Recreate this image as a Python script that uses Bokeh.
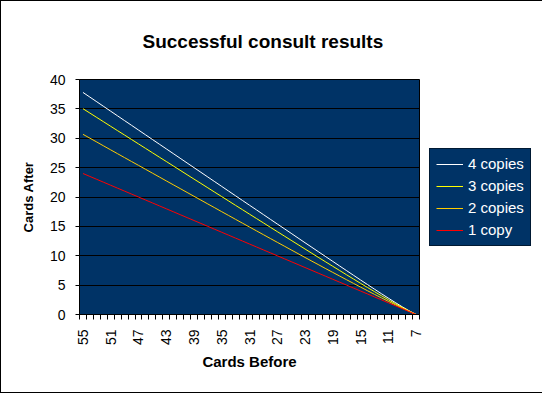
from bokeh.plotting import figure
from bokeh.models import Range1d, FixedTicker, Legend, LegendItem
from bokeh.embed import file_html
from bokeh.resources import INLINE
import math

cards_before = [55, 54, 53, 52, 51, 50, 49, 48, 47, 46, 45, 44, 43, 42, 41, 40, 39, 38, 37, 36,
                35, 34, 33, 32, 31, 30, 29, 28, 27, 26, 25, 24, 23, 22, 21, 20, 19, 18, 17, 16,
                15, 14, 13, 12, 11, 10, 9, 8, 7]

four_copies = [37.80, 37.00, 36.20, 35.40, 34.60, 33.80, 33.00, 32.20, 31.40, 30.60, 29.80, 29.00,
               28.20, 27.40, 26.60, 25.80, 25.00, 24.20, 23.40, 22.60, 21.80, 21.00, 20.20, 19.40,
               18.60, 17.81, 17.01, 16.21, 15.41, 14.62, 13.82, 13.02, 12.22, 11.43, 10.63, 9.84,
               9.04, 8.25, 7.46, 6.67, 5.88, 5.10, 4.32, 3.55, 2.79, 2.05, 1.32, 0.64, 0.00]

three_copies = [35.03, 34.28, 33.53, 32.78, 32.03, 31.28, 30.54, 29.79, 29.04, 28.29, 27.54, 26.79,
                26.05, 25.30, 24.55, 23.80, 23.05, 22.31, 21.56, 20.81, 20.07, 19.32, 18.57, 17.83,
                17.08, 16.34, 15.60, 14.85, 14.11, 13.37, 12.63, 11.89, 11.15, 10.41, 9.67, 8.94,
                8.21, 7.48, 6.75, 6.03, 5.31, 4.60, 3.90, 3.20, 2.52, 1.85, 1.20, 0.58, 0.00]

two_copies = [30.67, 30.01, 29.35, 28.68, 28.02, 27.36, 26.70, 26.04, 25.39, 24.73, 24.07, 23.41,
              22.75, 22.09, 21.44, 20.78, 20.12, 19.47, 18.81, 18.16, 17.50, 16.85, 16.19, 15.54,
              14.89, 14.24, 13.59, 12.94, 12.29, 11.65, 11.00, 10.36, 9.71, 9.07, 8.44, 7.80,
              7.17, 6.54, 5.91, 5.29, 4.67, 4.05, 3.44, 2.84, 2.25, 1.67, 1.10, 0.54, 0.00]

one_copy = [24.0, 23.5, 23.0, 22.5, 22.0, 21.5, 21.0, 20.5, 20.0, 19.5, 19.0, 18.5,
            18.0, 17.5, 17.0, 16.5, 16.0, 15.5, 15.0, 14.5, 14.0, 13.5, 13.0, 12.5,
            12.0, 11.5, 11.0, 10.5, 10.0, 9.5, 9.0, 8.5, 8.0, 7.5, 7.0, 6.5,
            6.0, 5.5, 5.0, 4.5, 4.0, 3.5, 3.0, 2.5, 2.0, 1.5, 1.0, 0.5, 0.0]

series_names = ["4 copies", "3 copies", "2 copies", "1 copy"]
series_colors = ["#FFFFFF", "#FFFF00", "#FFCC00", "#FF0000"]
y_ticks = [0, 5, 10, 15, 20, 25, 30, 35, 40]
label_step = 4

FONT = "Liberation Sans"
n = len(cards_before)
xs = list(range(n))

p = figure(frame_width=340, frame_height=235, output_backend="svg", toolbar_location=None,
           x_range=Range1d(-0.5, n - 0.5), y_range=Range1d(y_ticks[0], y_ticks[-1]),
           min_border_left=78, min_border_right=122, min_border_top=78, min_border_bottom=78)
p.styles = {"border": "1px solid black"}
p.background_fill_color = "#003366"
p.border_fill_color = "white"
p.outline_line_color = "black"
p.outline_line_width = 1

xa = p.below[0]
ya = p.left[0]

# title
p.title.text = "Successful consult results"
p.title.text_font = FONT
p.title.text_font_size = "19px"
p.title.text_font_style = "bold"
p.title.text_color = "black"
p.title.align = "left"
p.title.vertical_align = "top"
p.title.offset = 63
p.title.standoff = 52

# grids
p.xgrid.visible = False
p.ygrid.ticker = FixedTicker(ticks=y_ticks)
p.ygrid.grid_line_color = "black"
p.ygrid.grid_line_width = 1

# y axis
ya.ticker = FixedTicker(ticks=y_ticks)
ya.axis_label = "Cards After"
ya.axis_label_text_font = FONT
ya.axis_label_text_font_size = "13px"
ya.axis_label_text_font_style = "bold"
ya.axis_label_text_color = "black"
ya.axis_label_standoff = 11
ya.major_label_text_font = FONT
ya.major_label_text_font_size = "14px"
ya.major_label_text_color = "black"
ya.major_label_standoff = 10
ya.major_tick_in = 0
ya.major_tick_out = 4
ya.major_tick_line_color = "black"
ya.minor_tick_in = 0
ya.minor_tick_out = 0
ya.axis_line_color = "black"

# x axis: labels at category centres, tick marks at category boundaries
label_pos = list(range(0, n, label_step))
xa.ticker = FixedTicker(ticks=label_pos, minor_ticks=[i - 0.5 for i in range(n + 1)])
xa.major_label_overrides = {i: str(cards_before[i]) for i in label_pos}
xa.major_label_orientation = math.pi / 2
xa.major_label_text_font = FONT
xa.major_label_text_font_size = "14px"
xa.major_label_text_color = "black"
xa.major_label_standoff = 10
xa.major_tick_in = 0
xa.major_tick_out = 0
xa.minor_tick_in = 0
xa.minor_tick_out = 5
xa.minor_tick_line_color = "black"
xa.axis_line_color = "black"
xa.axis_label = "Cards Before"
xa.axis_label_text_font = FONT
xa.axis_label_text_font_size = "15px"
xa.axis_label_text_font_style = "bold"
xa.axis_label_text_color = "black"
xa.axis_label_standoff = 5

items = []
for name, color, vals in zip(series_names, series_colors,
                             [four_copies, three_copies, two_copies, one_copy]):
    r = p.line(xs, vals, line_color=color, line_width=1)
    items.append(LegendItem(label=name, renderers=[r]))

legend = Legend(items=items, location="left")
legend.margin = 10
legend.padding = 6
legend.spacing = 4
legend.glyph_width = 27
legend.glyph_height = 18
legend.label_height = 18
legend.label_width = 56
legend.label_standoff = 5
legend.label_text_font = FONT
legend.label_text_font_size = "15px"
legend.label_text_color = "white"
legend.background_fill_color = "#003366"
legend.background_fill_alpha = 1
legend.border_line_color = "black"
legend.border_line_width = 1
p.add_layout(legend, "right")

open("out.html", "w").write(file_html(p, INLINE))
